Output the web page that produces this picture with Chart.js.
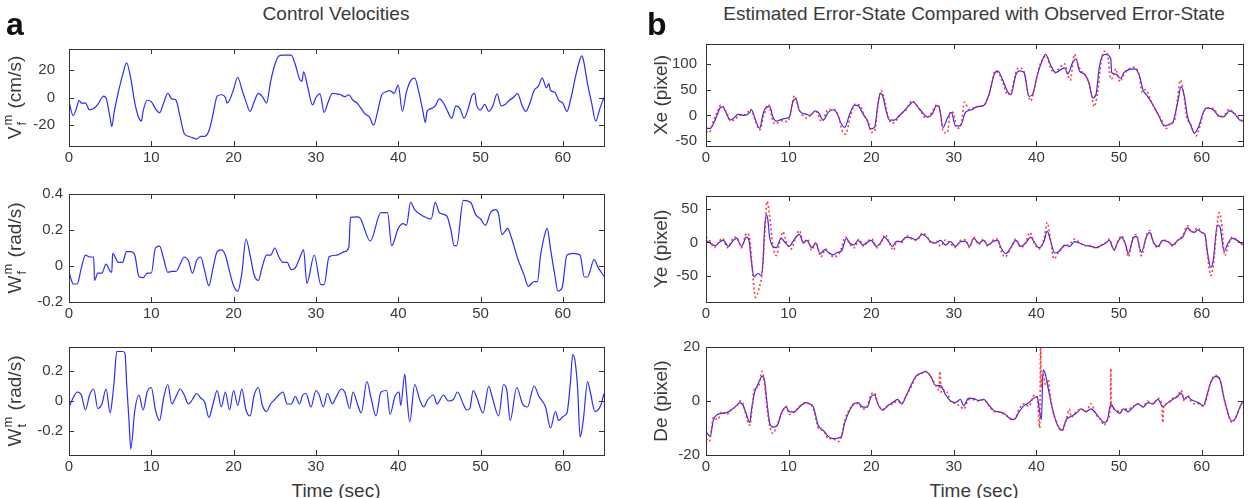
<!DOCTYPE html>
<html>
<head>
<meta charset="utf-8">
<script src="https://cdn.jsdelivr.net/npm/chart.js@4.4.1/dist/chart.umd.min.js"></script>
<style>
  body { margin: 0; background: #fff; }
  #fig { position: relative; width: 1248px; height: 498px; overflow: hidden;
         font-family: "Liberation Sans", Arial, sans-serif; color: #3a3a3a; }
  #fig canvas { position: absolute; }
  .txt { position: absolute; white-space: nowrap; font-size: 19px; line-height: 19px; text-align: center; width: 600px; }
  .letter { position: absolute; font-weight: bold; font-size: 32px; line-height: 32px; color: #111; }
</style>
</head>
<body>
<div id="fig">
  <canvas id="vf" width="608" height="144" style="left:0px;top:26px"></canvas>
  <canvas id="wf" width="608" height="147" style="left:0px;top:179px"></canvas>
  <canvas id="wt" width="608" height="147" style="left:0px;top:332px"></canvas>
  <canvas id="xe" width="607" height="144" style="left:640px;top:26px"></canvas>
  <canvas id="ye" width="607" height="147" style="left:640px;top:179px"></canvas>
  <canvas id="de" width="607" height="147" style="left:640px;top:332px"></canvas>

  <div class="letter" style="left:6px;top:8px">a</div>
  <div class="letter" style="left:647px;top:8px">b</div>
  <div class="txt" style="left:36px;top:4px">Control Velocities</div>
  <div class="txt" style="left:674px;top:4px">Estimated Error-State Compared with Observed Error-State</div>
  <div class="txt" style="left:36px;top:481px">Time (sec)</div>
  <div class="txt" style="left:674px;top:481px">Time (sec)</div>
</div>
<script>
// tick values
const timeTicks = [0, 10, 20, 30, 40, 50, 60];
const vfTicks = [-20, 0, 20];
const wfTicks = [-0.2, 0, 0.2, 0.4];
const wtTicks = [-0.2, 0, 0.2];
const xeTicks = [-50, 0, 50, 100];
const yeTicks = [-50, 0, 50];
const deTicks = [-20, 0, 20];

// [time (sec), value]
const vfCommand = [[0,-3],[0.5,-13],[1,-6],[1.2,-2],[1.5,-4],[2,-4],[2.5,-9],[3,-8],[3.5,-5],[4,0],[4.2,1],[4.5,-0.4],[5,-15],[5.2,-21],[5.5,-10],[6,4],[6.5,16],[7,25],[7.5,14],[8,-4],[8.5,-15],[8.8,-17],[9,-10],[9.5,-2],[10,-3],[10.5,-8],[11,-11],[11.5,-4],[12,3],[12.5,-1],[13,-2],[13.5,-14],[14,-26],[14.5,-28],[15,-29],[15.5,-30],[16,-28],[16.5,-28],[17,-24],[17.5,-12],[18,1],[18.5,2],[19,0],[19.2,-4],[19.5,-2],[20,6],[20.5,14.6],[21,6],[21.5,-3],[22,-10],[22.5,-3],[23,3],[23.5,0.6],[24,-4],[24.5,11.6],[25,23.6],[25.5,30],[26,30.6],[27,30.6],[27.5,23.6],[28,13.6],[28.3,11.6],[28.5,18.6],[29,7.6],[29.6,-5.4],[30,0],[30.5,2.6],[31,-10.8],[31.5,-3],[32,3],[32.5,2.6],[33,2],[33.5,0.6],[34,2],[34.5,-2],[35,-4],[35.5,-8],[36,-12],[36.5,-14],[37,-20],[37.5,-10],[38,2],[38.5,4],[39,5],[39.5,3],[40,9],[40.5,-10],[41,4],[41.5,12],[42,14],[42.5,4],[43,-10],[43.3,-18],[43.5,-10],[44,-8],[44.5,-6],[45,-1],[45.5,-4],[46,-10],[46.5,-15],[47,-6],[47.5,-8],[48,-15],[48.5,-8],[49,2],[49.3,3],[49.5,-5],[50,-9],[50.5,-5],[51,-10],[51.5,-6],[52,2.6],[52.5,-6],[53,-5],[53.5,-2],[54,0],[54.5,3],[55,-5],[55.5,-10],[56,-4],[56.5,5],[57,8],[57.5,14],[58,7],[58.3,10],[58.5,5],[59,4],[59.5,-2],[60,-4],[60.5,-10],[61,0],[61.5,14],[62,26],[62.3,30],[62.5,27],[63,10],[63.5,-4],[64,-17],[64.5,-8],[65,0]];

const wfCommand = [[0,-0.03],[0.3,-0.08],[0.5,-0.1],[1,-0.1],[1.5,-0.01],[2,0.06],[2.5,0.05],[3,0.05],[3.1,-0.08],[3.5,-0.04],[4,-0.04],[4.5,0.01],[5,-0.03],[5.2,-0.035],[5.3,0.07],[5.5,0.06],[6,0.02],[6.5,0.02],[7,0.08],[7.5,0.08],[8,0.06],[8.5,-0.06],[9,-0.065],[9.5,-0.04],[10,-0.04],[10.5,0.1],[11,0.11],[11.5,0.04],[12,-0.035],[12.5,-0.03],[13,-0.03],[13.5,0.01],[14,0.05],[14.5,0.03],[15,-0.04],[15.5,0.03],[16,0.05],[16.5,-0.03],[17,-0.11],[17.5,-0.01],[18,0.08],[18.5,0.09],[19,0.06],[19.5,-0.03],[20,-0.11],[20.5,-0.14],[21,-0.04],[21.5,0.15],[22,0.06],[22.5,-0.05],[23,-0.08],[23.5,0],[24,0.06],[24.5,0.06],[25,0.1],[25.5,0.05],[26,0.02],[26.5,0.02],[27,-0.02],[27.5,-0.01],[28,0.04],[28.5,0.09],[28.9,-0.096],[29.8,0.061],[30.6,-0.104],[31,-0.104],[31.6,0.052],[32.5,0.06],[33.5,0.08],[34,0.104],[34.2,0.27],[35,0.273],[35.3,0.27],[36.6,0.139],[37.9,0.296],[38.7,0.296],[39.2,0.113],[40,0.209],[40.6,0.235],[41,0.226],[41.5,0.353],[42,0.313],[43,0.278],[44,0.261],[44.5,0.353],[45,0.296],[45.9,0.278],[46.4,0.2],[46.8,0.113],[47.1,0.113],[47.9,0.365],[48.8,0.353],[49.4,0.287],[50,0.261],[50.6,0.226],[51.2,0.296],[51.8,0.313],[52.2,0.287],[52.6,0.174],[53.3,0.209],[53.7,0.165],[54.5,0.043],[55.3,-0.052],[55.8,-0.113],[56.5,-0.087],[56.9,-0.087],[57.3,0.061],[57.9,0.191],[58.1,0.209],[58.5,0.096],[59,-0.043],[59.4,-0.139],[59.9,-0.122],[60.5,0.061],[61.3,0.07],[62.1,0.061],[62.6,-0.061],[63,-0.061],[63.8,0.035],[64.3,-0.009],[65,-0.057]];

const wtCommand = [[0,-0.04],[0.5,0.02],[1,0.06],[1.5,0.04],[2,-0.06],[2.5,0.04],[3,0.08],[3.5,-0.05],[4,-0.02],[4.5,0.08],[5,-0.08],[5.3,0.03],[5.5,0.14],[5.8,0.33],[6,0.33],[6.5,0.33],[6.8,0.32],[7,0.12],[7.3,-0.14],[7.5,-0.32],[8,-0.06],[8.5,0.04],[9,-0.06],[9.5,0.06],[10,0.09],[10.5,-0.06],[11,-0.13],[11.5,0.02],[12,0.11],[12.5,-0.02],[13,0.03],[13.5,0.08],[14,0.04],[14.5,-0.02],[15,0.01],[15.5,0.05],[16,0.02],[16.5,-0.01],[17,-0.11],[17.5,-0.02],[18,0.07],[18.5,-0.04],[19,0.06],[19.5,-0.06],[20,0.07],[20.5,-0.03],[21,0.08],[21.5,-0.06],[22,-0.1],[22.5,0.04],[23,0.09],[23.5,-0.03],[24,-0.07],[24.5,-0.02],[25,0.01],[25.5,0.04],[26,0.06],[26.5,-0.02],[27,-0.02],[27.5,0.03],[28,-0.02],[28.4,0.04],[28.8,0.05],[29.4,-0.04],[30,0.07],[30.4,0.04],[30.9,-0.04],[31.4,0.05],[32,-0.02],[32.4,0.02],[33.1,0.08],[33.5,0.06],[34.1,-0.05],[34.5,0.06],[35.1,-0.03],[35.5,-0.08],[36.2,0.13],[36.7,0.02],[37.3,-0.1],[37.9,0.06],[38.6,0.07],[39,-0.09],[39.6,0.03],[40.1,0.06],[40.3,-0.03],[40.8,0.18],[41,0.06],[41.4,-0.14],[42,0.11],[42.6,0.01],[43.1,-0.04],[43.6,0.01],[44.3,0.04],[44.7,-0.02],[45.5,0.04],[46.1,0],[46.7,0.01],[47.2,0.06],[47.9,-0.02],[48.3,-0.06],[48.7,-0.05],[49.1,0.07],[49.5,0.03],[50.3,-0.08],[51,0.1],[51.4,0.03],[52.2,-0.1],[52.8,0.11],[53.2,0.07],[53.6,-0.13],[54.4,0.09],[55.1,-0.02],[55.7,-0.04],[56.5,0.1],[57.1,0.03],[57.9,-0.04],[58.5,-0.18],[59.1,-0.07],[59.5,-0.13],[60.1,-0.1],[60.5,-0.08],[60.9,0.11],[61.2,0.31],[61.5,0.26],[61.8,0.08],[62.1,-0.24],[62.5,-0.12],[63,0.13],[63.3,0.07],[63.9,-0.07],[64.6,-0.03],[65,0.05]];

const xeEstimated = [[0,-25],[0.5,-25],[1.1,-9],[1.7,14],[2,17],[2.5,3],[2.9,-9],[3.3,-6],[3.9,2],[4.7,0],[5.3,6],[5.5,11],[6,-9],[6.5,-25],[6.9,3],[7.4,17],[7.7,17],[8.1,-3],[8.5,-11],[8.9,-9],[9.5,-6],[10.1,-3],[10.5,26],[10.9,32],[11.3,9],[12,3],[12.6,0],[13.2,9],[13.6,6],[14.2,-9],[14.8,6],[15.4,11],[15.8,6],[16.4,-17],[16.8,-23],[17.4,3],[18,20],[18.4,19],[19,3],[19.5,-9],[19.9,-26],[20.4,-23],[20.8,20],[21.1,43],[21.4,37],[21.8,9],[22.2,-9],[22.8,-9],[23.4,0],[24,9],[24.6,20],[25.1,26],[25.6,17],[26.2,6],[26.8,-3],[27.4,3],[27.9,19],[28.2,17],[28.7,-23],[29.2,-6],[29.7,6],[30.2,-20],[30.8,-20],[31.4,6],[32.2,11],[32.8,17],[33.6,19],[34.3,43],[34.9,80],[35.3,86],[35.9,69],[36.5,46],[36.9,40],[37.5,78],[37.9,86],[38.5,83],[39.1,37],[39.5,40],[40.1,78],[40.7,106],[41.1,118],[41.7,98],[42.3,83],[43,89],[43.4,92],[43.8,80],[44.4,103],[44.8,109],[45.2,86],[45.8,80],[46.4,60],[46.8,34],[47.2,40],[47.6,92],[48,115],[48.4,118],[49,109],[49.1,83],[49.6,80],[50.2,72],[50.6,83],[51.3,89],[51.9,90],[52.5,75],[52.9,49],[53.3,40],[53.9,26],[54.7,3],[55.5,-20],[56.1,-17],[56.5,-14],[57.1,26],[57.5,55],[57.9,37],[58.3,-3],[58.7,-20],[59.1,-34],[59.6,-23],[60.2,6],[60.6,14],[61.4,11],[62,0],[62.6,-3],[63.4,9],[64,3],[64.6,-9],[65,-11]];

const xeObserved = [[0,-30],[0.4,-33],[0.8,-15],[1.3,5],[1.8,20],[2.5,5],[3,-10],[3.5,-8],[4,0],[4.8,2],[5.4,12],[6,-12],[6.5,-28],[7,0],[7.6,20],[8,-5],[8.3,-16],[8.7,-14],[9.2,-10],[9.8,-12],[10.2,0],[10.7,38],[11.2,15],[11.6,2],[12.2,-5],[12.8,3],[13.3,8],[14,-12],[14.7,10],[15.4,12],[16,0],[16.5,-30],[16.9,-36],[17.5,0],[18.1,22],[18.6,20],[19.2,-2],[19.7,-15],[20,-33],[20.4,-30],[20.9,30],[21.2,48],[21.6,30],[22,0],[22.5,-15],[23,-10],[23.6,3],[24.2,10],[24.9,28],[25.4,22],[26,8],[26.6,-5],[27.3,5],[27.9,20],[28.3,12],[28.7,-30],[29.2,-34],[29.6,8],[30,2],[30.4,-25],[30.9,-15],[31.3,26],[31.8,12],[32.5,15],[33.2,18],[33.8,22],[34.4,48],[35,85],[35.5,80],[36,60],[36.5,40],[37,48],[37.6,88],[38,92],[38.6,78],[39,40],[39.3,28],[39.8,55],[40.3,92],[40.8,110],[41.2,115],[41.7,92],[42.2,82],[42.8,92],[43.4,100],[43.8,78],[44.1,68],[44.6,118],[45.1,95],[45.6,82],[46.2,70],[46.6,45],[47,17],[47.4,45],[47.8,100],[48.2,124],[48.6,118],[49,70],[49.3,75],[49.6,90],[50.1,65],[50.6,80],[51.2,90],[51.8,93],[52.4,80],[52.8,45],[53.2,50],[53.8,30],[54.5,8],[55.2,-10],[55.7,-25],[56.2,-15],[56.7,-10],[57.1,35],[57.4,68],[57.8,45],[58.2,-5],[58.6,-15],[59,-30],[59.3,-40],[59.8,-20],[60.3,10],[60.8,15],[61.5,12],[62.1,-2],[62.7,0],[63.3,12],[63.9,5],[64.5,-5],[65,-12]];

const yeEstimated = [[0,3],[0.5,-1],[1.1,-5],[1.7,1],[2.1,3],[2.7,-6],[3.3,3],[3.7,6],[4.3,-6],[4.9,8],[5.2,3],[5.5,-29],[5.8,-52],[6.3,-47],[6.7,-50],[6.9,-29],[7.1,22],[7.3,42],[7.5,33],[7.7,8],[8.1,-6],[8.5,-8],[9.1,6],[9.5,1],[10.1,-6],[10.5,1],[10.9,8],[11.3,12],[11.8,-1],[12.2,3],[12.8,-8],[13.3,-1],[13.8,-17],[14.4,-11],[14.8,-15],[15.4,-19],[15.9,-15],[16.4,-13],[17,6],[17.4,-1],[17.9,-4],[18.4,3],[19,-4],[19.5,0],[20,3],[20.6,-6],[21.1,-1],[21.6,8],[22,3],[22.6,-6],[23,1],[23.6,1],[24.2,8],[24.8,7],[25.4,4],[26.2,12],[26.7,8],[27.2,1],[27.8,-1],[28.4,3],[29,-4],[29.6,1],[30.2,-6],[30.8,1],[31.4,2],[31.9,-6],[32.4,6],[33,-1],[33.6,3],[34.1,-4],[34.7,1],[35.3,3],[35.7,-8],[36.3,-17],[36.9,-8],[37.5,3],[38.1,-6],[38.7,-1],[39.3,8],[39.7,1],[40.3,-8],[40.9,1],[41.3,17],[41.7,3],[42.2,-16],[42.8,-13],[43.4,-4],[44,-6],[44.6,1],[45.2,-1],[45.8,-4],[46.6,-6],[47.2,-8],[47.8,-5],[48.4,-1],[48.8,3],[49.4,-11],[49.8,-1],[50.3,8],[50.8,-4],[51.1,-17],[51.7,6],[52.1,9],[52.7,-15],[53.3,8],[53.7,15],[54.2,-1],[54.7,-6],[55.3,3],[55.9,1],[56.5,-4],[57.1,3],[57.7,8],[58.3,22],[58.7,17],[59.1,15],[59.5,19],[60,15],[60.4,12],[60.7,-15],[61.1,-38],[61.4,-27],[61.9,26],[62.2,24],[62.7,-13],[63.2,-1],[63.7,6],[64.3,3],[65,-4]];

const yeObserved = [[0,8],[0.5,2],[1,-8],[1.5,0],[2,6],[2.6,-8],[3.2,5],[3.7,8],[4.3,-8],[4.9,14],[5.3,5],[5.6,-40],[6,-83],[6.4,-70],[6.8,-45],[7.1,10],[7.4,62],[7.7,40],[8.1,-5],[8.5,-20],[9,5],[9.3,16],[9.8,-2],[10.3,-10],[10.8,5],[11.3,18],[11.8,0],[12.3,5],[12.8,-12],[13.3,0],[13.9,-22],[14.5,-10],[15,-18],[15.5,-22],[16.2,-15],[16.9,8],[17.4,-3],[18,-8],[18.5,5],[19.1,-6],[19.6,2],[20.1,5],[20.7,-8],[21.2,0],[21.7,12],[22.1,2],[22.7,-12],[23.1,2],[23.7,0],[24.3,10],[24.9,5],[25.5,3],[26.2,14],[26.8,8],[27.3,-2],[27.9,2],[28.4,-6],[29,4],[29.6,-2],[30.2,-8],[30.8,3],[31.4,4],[31.9,-8],[32.4,8],[33,-3],[33.6,5],[34.1,-6],[34.7,3],[35.3,5],[35.7,-12],[36.2,-22],[36.9,-8],[37.5,5],[38.1,-8],[38.7,0],[39.2,15],[39.7,0],[40.3,-10],[40.9,5],[41.3,30],[41.7,5],[42.1,-25],[42.8,-12],[43.4,-5],[44,-3],[44.6,5],[45.2,0],[45.8,-5],[46.6,-5],[47.2,-9],[47.8,-4],[48.4,0],[48.8,5],[49.4,-12],[49.8,0],[50.3,10],[50.8,-5],[51.1,-22],[51.7,8],[52.1,12],[52.7,-20],[53.3,10],[53.7,18],[54.2,-2],[54.7,-8],[55.3,3],[55.9,2],[56.5,-6],[57.1,3],[57.7,10],[58.3,25],[58.7,15],[59.1,18],[59.5,22],[60,15],[60.4,10],[60.7,-20],[61.1,-50],[61.4,-35],[61.9,30],[62.1,45],[62.4,30],[62.8,-20],[63.2,-5],[63.7,8],[64.3,3],[65,-4]];

const deEstimated = [[0,-11.4],[0.5,-13],[0.9,-7],[1.4,-5],[1.9,-4.6],[2.5,-4.3],[3.1,-3.2],[3.7,-1.7],[4.1,-0.6],[4.5,-1.7],[4.9,-5],[5.3,-8],[5.5,-3.4],[5.9,3.4],[6.3,6.3],[6.8,9.1],[7.1,7.4],[7.4,-1.1],[7.7,-8],[8.1,-9.7],[8.7,-8.6],[9.1,-4.6],[9.7,-2.3],[10.1,-4],[10.7,-4],[11.3,-2.3],[12,-0.6],[12.6,-1.1],[13,-2.3],[13.6,-9.1],[14.2,-10.9],[14.8,-13.1],[15.4,-13.9],[16,-13.7],[16.4,-13.1],[16.8,-8],[17.4,-3.4],[17.9,-1.1],[18.4,-0.6],[19,-2.3],[19.5,-2.3],[20,1.7],[20.4,2.3],[20.8,-1.1],[21.4,-3.4],[22,-1.7],[22.6,-0.6],[23.2,0.6],[23.7,-1.1],[24.2,1.7],[24.8,5.7],[25.4,9.1],[26,10.3],[26.6,10.9],[27.2,9.1],[27.8,5.7],[28.4,5.7],[29,2.3],[29.6,0],[30.2,-0.6],[30.8,0.6],[31.2,-1.7],[31.8,1.1],[32.4,0.9],[33,0.2],[33.6,0.6],[34.3,-1.7],[34.9,-3.7],[35.5,-4],[36.1,-4.6],[36.7,-6.3],[37.1,-6.9],[37.5,-6.3],[37.9,-4],[38.5,-1.7],[39.1,-0.6],[39.7,1.1],[40.1,1.7],[40.3,-2.3],[40.6,-6.9],[40.8,11.4],[41.1,9.7],[41.5,3.4],[41.9,-2.3],[42.3,-6.9],[42.7,-9.7],[43.1,-10.9],[43.6,-6.9],[44.2,-5.7],[44.8,-4.6],[45.4,-2.9],[46,-4],[46.6,-2.9],[47.2,-4.6],[47.8,-6.9],[48.2,-8],[48.6,-6.9],[49,-1.1],[49.4,-2.9],[50.1,-4.6],[50.5,-2.9],[51.1,-4],[51.7,-2.3],[52.3,-1.1],[52.9,-2.3],[53.5,-0.6],[54.1,-1.1],[54.7,0.6],[55.3,-2.1],[55.9,-0.6],[56.5,0.6],[57.1,1.7],[57.5,2.9],[57.9,0.6],[58.3,1.7],[58.7,0.6],[59.1,0],[59.6,-0.6],[60.2,-1.7],[60.6,1.7],[61.1,6.9],[61.7,9.1],[62.2,8],[62.7,1.1],[63.3,-5.7],[63.7,-7.4],[64.1,-6.3],[64.7,-1.7],[65,0]];

const deObserved = [[0,-14],[0.4,-15],[0.9,-6],[1.4,-7],[1.9,-4],[2.5,-5],[3.1,-3],[3.7,-2],[4.1,0],[4.5,-1],[4.9,-6],[5.3,-9],[5.6,-2],[5.9,5],[6.3,5],[6.8,11],[7.1,6],[7.4,-3],[7.7,-9],[8.1,-12],[8.7,-8],[9.1,-5],[9.7,-2],[10.1,-5],[10.7,-4],[11.3,-2],[12,-1],[12.6,-1],[13,-3],[13.6,-10],[14.2,-11],[14.8,-14],[15.4,-14],[16,-15],[16.4,-13],[16.8,-7],[17.4,-3],[17.9,-1],[18.4,-1],[19,-3],[19.5,-2],[20,2.5],[20.4,3],[20.8,-1],[21.4,-3],[22,-2],[22.6,-1],[23.2,0],[23.7,-1],[24.2,2],[24.8,5],[25.4,9],[26,10],[26.6,11],[27.2,9],[27.8,6],[28.2,4],[28.3,11],[28.5,3],[29,4],[29.6,0],[30.2,-1],[30.8,-2],[31.2,-3],[31.8,0.5],[32.4,0.5],[33,0],[33.6,0.5],[34.3,-2],[34.9,-4],[35.5,-4],[36.1,-5],[36.7,-6],[37.1,-7],[37.5,-6],[37.9,-3],[38.5,-1],[39.1,-2],[39.7,2],[40.1,1],[40.4,-10],[40.5,20],[40.6,5],[40.8,10],[41.1,6],[41.4,8],[41.7,1],[42,-4],[42.3,-7],[42.7,-10],[43.1,-11],[43.6,-7],[44,-3],[44.2,-6],[44.8,-4],[45.4,-3],[46,-4],[46.6,-1],[47.2,-5],[47.8,-7],[48.2,-9],[48.6,-7],[48.95,-2],[49,12],[49.05,-2],[49.4,-3],[50.1,-4],[50.5,-3],[51.1,-3],[51.7,-2],[52.3,-1],[52.9,-2],[53.5,0],[54.1,-1],[54.7,1],[55.2,-2],[55.3,-8],[55.4,-2],[55.9,-1],[56.5,1],[57.1,2],[57.5,4],[57.9,0],[58.3,2],[58.7,0],[59.1,-1],[59.6,-1],[60.2,-2],[60.6,1],[61.1,7],[61.7,9.5],[62.2,8],[62.7,1],[63.3,-6],[63.7,-8],[64.1,-6],[64.7,-2],[65,0]];

const BLUE = '#2b2bff';
const RED = 'rgba(255,35,35,0.9)';
const TEXT = '#3a3a3a';
const FONT = '"Liberation Sans", Arial, sans-serif';

Chart.defaults.font.family = FONT;
Chart.defaults.color = TEXT;

// matlab style box with inward ticks
const boxPlugin = {
  id: 'box',
  afterDraw(chart) {
    const { ctx, chartArea: a, scales: { x, y } } = chart;
    ctx.save();
    ctx.strokeStyle = '#333';
    ctx.lineWidth = 1;
    ctx.beginPath();
    x.ticks.forEach(t => {
      const px = Math.round(x.getPixelForValue(t.value)) + 0.5;
      ctx.moveTo(px, a.bottom); ctx.lineTo(px, a.bottom - 5);
      ctx.moveTo(px, a.top); ctx.lineTo(px, a.top + 5);
    });
    y.ticks.forEach(t => {
      const py = Math.round(y.getPixelForValue(t.value)) + 0.5;
      ctx.moveTo(a.left, py); ctx.lineTo(a.left + 5, py);
      ctx.moveTo(a.right, py); ctx.lineTo(a.right - 5, py);
    });
    ctx.stroke();
    ctx.strokeRect(Math.round(a.left) + 0.5, Math.round(a.top) + 0.5, Math.round(a.width), Math.round(a.height));
    ctx.restore();
  }
};

// rotated y label with optional super/subscript
const ylabelPlugin = {
  id: 'ylabel',
  afterDraw(chart, args, o) {
    const { ctx, chartArea: a } = chart;
    const big = '19px ' + FONT, small = '13px ' + FONT;
    ctx.save();
    ctx.translate(o.x, (a.top + a.bottom) / 2);
    ctx.rotate(-Math.PI / 2);
    ctx.fillStyle = TEXT;
    ctx.textBaseline = 'alphabetic';
    ctx.font = big;
    const wb = ctx.measureText(o.base).width;
    const wr = ctx.measureText(o.rest || '').width;
    ctx.font = small;
    const ws = o.sup ? Math.max(ctx.measureText(o.sup).width, ctx.measureText(o.sub).width) + 2 : 0;
    let x0 = -(wb + ws + wr) / 2;
    ctx.font = big;
    ctx.fillText(o.base, x0, 0);
    x0 += wb;
    if (o.sup) {
      ctx.font = small;
      ctx.fillText(o.sup, x0 + 1, -9);
      ctx.fillText(o.sub, x0 + 1, 5);
      x0 += ws;
    }
    ctx.font = big;
    ctx.fillText(o.rest || '', x0, 0);
    ctx.restore();
  }
};

function panel(id, o) {
  new Chart(document.getElementById(id), {
    type: 'line',
    data: {
      datasets: o.series.map(s => ({
        data: s.points.map(p => ({ x: p[0], y: p[1] })),
        borderColor: s.color,
        borderWidth: s.width,
        borderDash: s.dash || [],
        pointRadius: 0,
        cubicInterpolationMode: 'monotone',
        fill: false
      }))
    },
    options: {
      responsive: false,
      animation: false,
      devicePixelRatio: 1,
      layout: { padding: { left: 0, right: 4, top: 6, bottom: 0 } },
      plugins: { legend: { display: false }, tooltip: { enabled: false }, ylabel: o.label },
      scales: {
        x: {
          type: 'linear', min: 0, max: 65,
          grid: { display: false, drawTicks: false }, border: { display: false },
          afterBuildTicks: s => { s.ticks = timeTicks.map(v => ({ value: v })); },
          afterFit: s => { s.height = 24; },
          ticks: { padding: 3, font: { size: 15 }, maxRotation: 0, autoSkip: false, callback: v => String(v) }
        },
        y: {
          type: 'linear', min: o.min, max: o.max,
          grid: { display: false, drawTicks: false }, border: { display: false },
          afterBuildTicks: s => { s.ticks = o.ticks.map(v => ({ value: v })); },
          afterFit: s => { s.width = o.yw; },
          ticks: { padding: o.pad, font: { size: 15 }, autoSkip: false, callback: v => String(v) }
        }
      }
    },
    plugins: [boxPlugin, ylabelPlugin]
  });
}

panel('vf', { min: -35, max: 35, ticks: vfTicks, yw: 69, pad: 14,
  label: { x: 21, base: 'V', sup: 'm', sub: 'f', rest: ' (cm/s)' },
  series: [{ points: vfCommand, color: BLUE, width: 1.2 }] });
panel('wf', { min: -0.2, max: 0.4, ticks: wfTicks, yw: 69, pad: 6,
  label: { x: 21, base: 'W', sup: 'm', sub: 'f', rest: ' (rad/s)' },
  series: [{ points: wfCommand, color: BLUE, width: 1.2 }] });
panel('wt', { min: -0.36, max: 0.36, ticks: wtTicks, yw: 69, pad: 6,
  label: { x: 21, base: 'W', sup: 'm', sub: 't', rest: ' (rad/s)' },
  series: [{ points: wtCommand, color: BLUE, width: 1.2 }] });

panel('xe', { min: -59, max: 138, ticks: xeTicks, yw: 66, pad: 9,
  label: { x: 27, base: 'Xe (pixel)' },
  series: [{ points: xeObserved, color: RED, width: 1.6, dash: [2, 2.5] },
           { points: xeEstimated, color: BLUE, width: 1.2 }] });
panel('ye', { min: -90, max: 70, ticks: yeTicks, yw: 66, pad: 8,
  label: { x: 27, base: 'Ye (pixel)' },
  series: [{ points: yeObserved, color: RED, width: 1.6, dash: [2, 2.5] },
           { points: yeEstimated, color: BLUE, width: 1.2 }] });
panel('de', { min: -20, max: 20, ticks: deTicks, yw: 66, pad: 6,
  label: { x: 27, base: 'De (pixel)' },
  series: [{ points: deObserved, color: RED, width: 1.6, dash: [2, 2.5] },
           { points: deEstimated, color: BLUE, width: 1.2 }] });
</script>
</body>
</html>
